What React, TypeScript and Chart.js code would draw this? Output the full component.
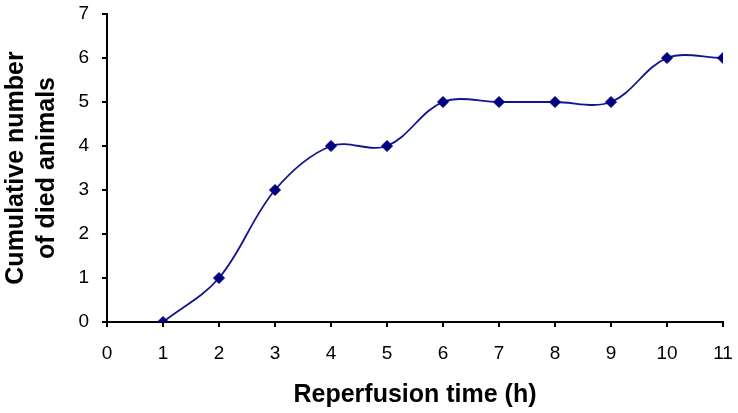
import React, { useEffect, useRef } from "react";
import { Chart, registerables } from "chart.js";

Chart.register(...registerables);

const hours = [1, 2, 3, 4, 5, 6, 7, 8, 9, 10, 11];
const diedAnimals = [0, 1, 3, 4, 4, 5, 5, 5, 5, 6, 6];
const xTitle = "Reperfusion time (h)";
const yTitle = ["Cumulative number", "of died animals"];
const xMin = 0, xMax = 11, yMin = 0, yMax = 7;

export default function App() {
  const ref = useRef<HTMLCanvasElement>(null);
  useEffect(() => {
    if (!ref.current) return;
    const fam = "'Liberation Sans', Arial, sans-serif";
    const chart = new Chart(ref.current, {
      type: "line",
      data: {
        datasets: [
          {
            data: hours.map((h, i) => ({ x: h, y: diedAnimals[i] })),
            borderColor: "#14148f",
            borderWidth: 1.8,
            tension: 0.35,
            pointStyle: "rectRot",
            pointRadius: 5.5,
            pointBackgroundColor: "#000080",
            pointBorderColor: "#000080",
            pointBorderWidth: 1,
            fill: false,
          },
        ],
      },
      options: {
        animation: false,
        responsive: false,
        maintainAspectRatio: false,
        layout: { padding: { left: 0, right: 15, top: 14, bottom: 0 } },
        plugins: { legend: { display: false }, tooltip: { enabled: false } },
        scales: {
          x: {
            type: "linear",
            min: xMin,
            max: xMax,
            afterFit: (s: any) => { s.height = 91; s.paddingRight = 0; s.paddingLeft = 0; },
            ticks: { stepSize: 1, color: "#000", font: { family: fam, size: 19 }, padding: 15, maxRotation: 0 },
            grid: { display: true, drawOnChartArea: false, drawTicks: true, tickLength: 5, color: "#000", lineWidth: 2 },
            border: { display: true, color: "#000", width: 2 },
            title: {
              display: true,
              text: xTitle,
              color: "#000",
              font: { family: fam, size: 25, weight: "bold", lineHeight: 1.2 },
              padding: { top: 0, bottom: 3 },
            },
          },
          y: {
            type: "linear",
            min: yMin,
            max: yMax,
            afterFit: (s: any) => { s.width = 107; s.paddingTop = 0; s.paddingBottom = 0; },
            ticks: { stepSize: 1, color: "#000", font: { family: fam, size: 19 }, padding: 13 },
            grid: { display: true, drawOnChartArea: false, drawTicks: true, tickLength: 5, color: "#000", lineWidth: 2 },
            border: { display: true, color: "#000", width: 2 },
            title: {
              display: true,
              text: yTitle,
              color: "#000",
              font: { family: fam, size: 25, weight: "bold", lineHeight: 1.24 },
              padding: { top: 1, bottom: 0 },
            },
          },
        },
      },
    });
    return () => chart.destroy();
  }, []);
  return (
    <div style={{ position: "absolute", left: 0, top: 0, width: 738, height: 413, background: "#fff" }}>
      <canvas ref={ref} width={738} height={413} style={{ display: "block", width: 738, height: 413 }} />
    </div>
  );
}
